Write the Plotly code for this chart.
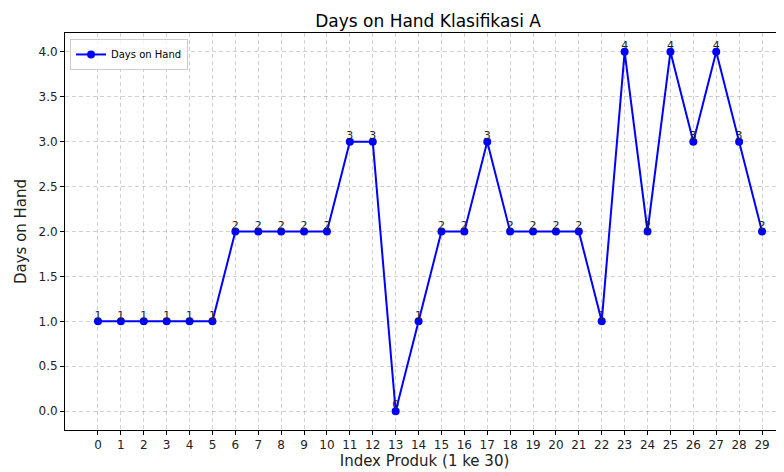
import plotly.graph_objects as go

# data
index_produk = list(range(30))
days_on_hand = [1, 1, 1, 1, 1, 1, 2, 2, 2, 2, 2, 3, 3, 0, 1, 2, 2, 3, 2, 2, 2, 2, 1, 4, 2, 4, 3, 4, 3, 2]
label_text = [str(v) for v in days_on_hand]

font = "DejaVu Sans"

fig = go.Figure()

fig.add_trace(go.Scatter(
    x=index_produk,
    y=days_on_hand,
    mode='lines+markers',
    name='Days on Hand',
    line=dict(color='blue', width=2),
    marker=dict(size=8, color='blue')
))

# value labels on each point
fig.add_trace(go.Scatter(
    x=index_produk,
    y=days_on_hand,
    mode='text',
    text=label_text,
    textposition='top center',
    textfont=dict(family=font, size=11, color='#222'),
    showlegend=False,
    hoverinfo='skip'
))

axis_style = dict(
    showline=True, linecolor='black', linewidth=1, mirror=True,
    ticks='outside', ticklen=4, tickcolor='black',
    showgrid=True, gridcolor='rgba(0,0,0,0.18)', griddash='4px,3px', gridwidth=1,
    zeroline=False, automargin=False,
    tickfont=dict(family=font, size=12, color='#222'),
)

fig.update_xaxes(
    range=[-1.44, 29.96],
    tickmode='array', tickvals=index_produk, ticktext=[str(i) for i in index_produk],
    title=dict(text='Index Produk (1 ke 30)', font=dict(family=font, size=15, color='#222'), standoff=4),
    **axis_style
)
fig.update_yaxes(
    range=[-0.21, 4.21],
    tickmode='array', tickvals=[0, 0.5, 1, 1.5, 2, 2.5, 3, 3.5, 4],
    ticktext=['0.0', '0.5', '1.0', '1.5', '2.0', '2.5', '3.0', '3.5', '4.0'],
    title=dict(text='Days on Hand', font=dict(family=font, size=15, color='#222'), standoff=8),
    **axis_style
)

# the page body adds an 8px margin, so the figure is sized to fill the rest of the window
fig.update_layout(
    width=776, height=464,
    margin=dict(l=57, r=0, t=25, b=42),
    plot_bgcolor='white', paper_bgcolor='white',
    title=dict(text='Days on Hand Klasifikasi A', xref='paper', x=0.505, xanchor='center',
               y=0.972, yanchor='middle',
               font=dict(family=font, size=17, color='black')),
    legend=dict(x=0.007, y=0.985, xanchor='left', yanchor='top',
                bgcolor='rgba(255,255,255,0.8)', bordercolor='#ccc', borderwidth=1,
                font=dict(family=font, size=10, color='black'), itemwidth=30),
    font=dict(family=font),
)

fig.write_html("out.html")
